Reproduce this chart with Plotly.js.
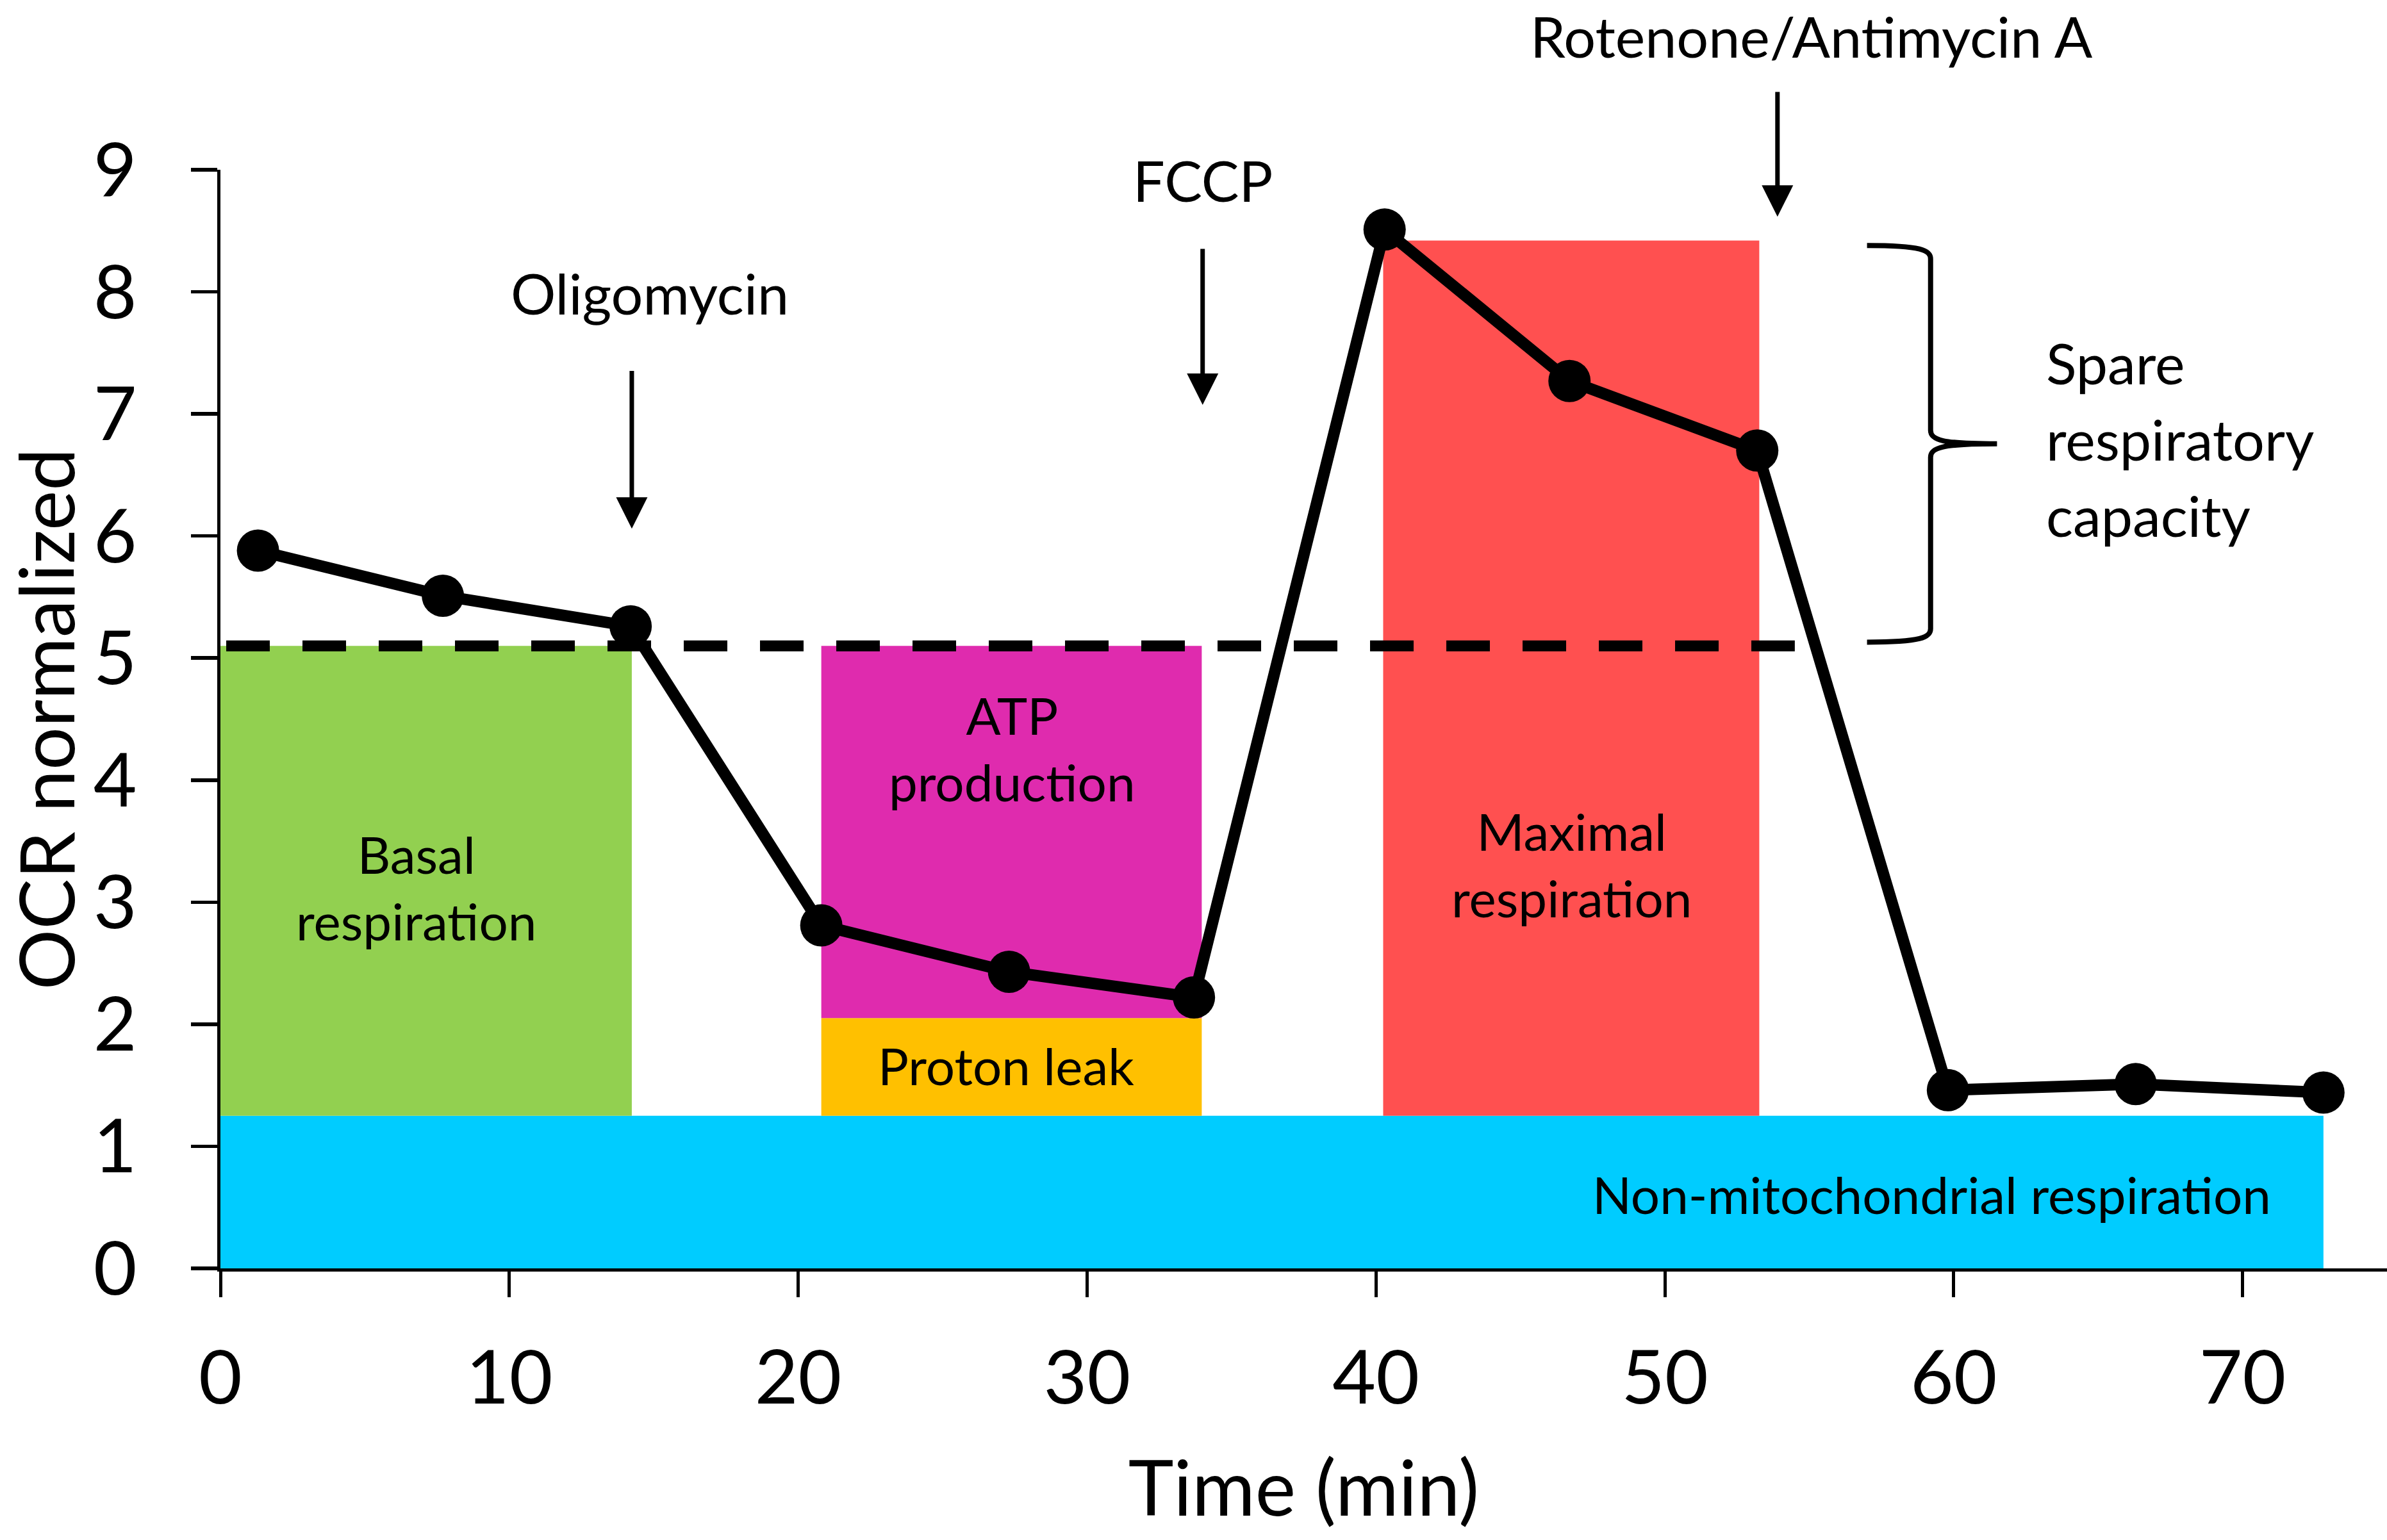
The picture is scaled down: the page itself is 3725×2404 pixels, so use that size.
<!DOCTYPE html>
<html>
<head>
<meta charset="utf-8">
<script src="https://cdn.plot.ly/plotly-3.0.1.min.js"></script>
<style>
  html, body { margin: 0; padding: 0; background: #ffffff; }
  #chart { width: 3725px; height: 2404px; }
</style>
</head>
<body>
<div id="chart"></div>
<script>
// ---- Data ----
const timeMin = [1.3, 7.7, 14.2, 20.8, 27.3, 33.7, 40.3, 46.7, 53.2, 59.8, 66.3, 72.8];
const ocrNormalized = [5.88, 5.51, 5.26, 2.81, 2.43, 2.22, 8.51, 7.27, 6.70, 1.46, 1.51, 1.44];

const basalLevel = 5.1;             // dashed reference line
const basalLineX = [0.2, 54.5];

const regionNames  = ["Non-mitochondrial respiration", "Basal respiration", "Proton leak", "ATP production", "Maximal respiration"];
const regionStart  = [0, 0, 20.8, 20.8, 40.25];
const regionEnd    = [72.8, 14.24, 33.97, 33.97, 53.27];
const regionBottom = [0, 1.25, 1.25, 2.05, 1.25];
const regionTop    = [1.25, 5.1, 2.05, 5.1, 8.42];
const regionColors = ["#00CCFF", "#92D050", "#FFC000", "#DF2BAE", "#FF5050"];

const injectionNames = ["Oligomycin", "FCCP", "Rotenone/Antimycin A"];
const injectionTimes = [14.24, 34.0, 53.9];

const xTickVals = [0, 10, 20, 30, 40, 50, 60, 70];
const yTickVals = [0, 1, 2, 3, 4, 5, 6, 7, 8, 9];

// ---- Styling ----
const FONT = 'Lato, "Open Sans", sans-serif';
const BLACK = '#000000';
const Y_MAX = 9;

const traces = [
  {
    x: basalLineX,
    y: basalLineX.map(() => basalLevel),
    mode: 'lines',
    line: { color: BLACK, width: 17, dash: '68px,51px' },
    hoverinfo: 'skip',
    showlegend: false
  },
  {
    x: timeMin,
    y: ocrNormalized,
    mode: 'lines+markers',
    line: { color: BLACK, width: 18 },
    marker: { color: BLACK, size: 66 },
    cliponaxis: false,
    showlegend: false
  }
];

const shapes = regionNames.map((name, i) => ({
  type: 'rect', xref: 'x', yref: 'y', layer: 'below',
  x0: regionStart[i], x1: regionEnd[i], y0: regionBottom[i], y1: regionTop[i],
  fillcolor: regionColors[i], line: { width: 0 }
}));

// curly brace for spare respiratory capacity
const braceTop = 8.38, braceBottom = 5.13, braceMid = (braceTop + braceBottom) / 2;
const bx0 = 57.0, bx1 = 59.2, bx2 = 61.5;
shapes.push({
  type: 'path', xref: 'x', yref: 'y', layer: 'above',
  path: `M ${bx0},${braceTop} C ${bx1 - 0.3},${braceTop} ${bx1},${braceTop - 0.04} ${bx1},${braceTop - 0.11} ` +
        `L ${bx1},${braceMid + 0.11} C ${bx1},${braceMid + 0.03} ${bx1 + 0.4},${braceMid} ${bx2},${braceMid} ` +
        `C ${bx1 + 0.4},${braceMid} ${bx1},${braceMid - 0.03} ${bx1},${braceMid - 0.11} ` +
        `L ${bx1},${braceBottom + 0.11} C ${bx1},${braceBottom + 0.04} ${bx1 - 0.3},${braceBottom} ${bx0},${braceBottom}`,
  line: { color: BLACK, width: 8 }
});

function label(text, x, y, size, opts) {
  return Object.assign({
    text: text, x: x, y: y, xref: 'x', yref: 'y',
    showarrow: false, xanchor: 'center', yanchor: 'middle',
    font: { family: FONT, size: size, color: BLACK }
  }, opts || {});
}

const arrowTails = [7.36, 8.36, 9.645];
const arrowTips  = [6.06, 7.074, 8.615];
const injLabelX  = [14.87, 34.0, 55.07];
// label positions in paper units (plot height = 1); the top one is pinned to the page top
const injLabelOpts = [
  { yref: 'paper', y: 7.99 / Y_MAX, yanchor: 'middle' },
  { yref: 'paper', y: 8.917 / Y_MAX, yanchor: 'middle' },
  { yref: 'paper', y: 1.1538, yanchor: 'top' }
];

const annotations = [];
injectionNames.forEach((name, i) => {
  annotations.push(label(name, injLabelX[i], 0, 88, injLabelOpts[i]));
  annotations.push({
    x: injectionTimes[i], y: arrowTips[i], ax: injectionTimes[i], ay: arrowTails[i],
    xref: 'x', yref: 'y', axref: 'x', ayref: 'y', text: '',
    showarrow: true, arrowhead: 2, arrowsize: 1.4, arrowwidth: 7, arrowcolor: BLACK,
    standoff: 0, startstandoff: 0
  });
});

annotations.push(label('Basal<br>respiration', 6.78, 3.124, 80));
annotations.push(label('ATP<br>production', 27.41, 4.26, 80));
annotations.push(label('Proton leak', 27.2, 1.663, 80));
annotations.push(label('Maximal<br>respiration', 46.78, 3.314, 80));
annotations.push(label('Non-mitochondrial respiration', 59.25, 0.609, 80));
annotations.push(label('Spare', 63.15, 7.419, 88, { xanchor: 'left' }));
annotations.push(label('respiratory', 63.15, 6.794, 88, { xanchor: 'left' }));
annotations.push(label('capacity', 63.15, 6.170, 88, { xanchor: 'left' }));

const layout = {
  width: 3725, height: 2404,
  margin: { l: 344, r: 0, t: 265, b: 424, pad: 0 },
  paper_bgcolor: '#ffffff', plot_bgcolor: '#ffffff',
  font: { family: FONT, color: BLACK },
  showlegend: false,
  xaxis: {
    range: [0, 75], tickvals: xTickVals, ticktext: xTickVals.map(String),
    ticks: 'outside', ticklen: 40, tickwidth: 5, tickcolor: BLACK,
    showline: true, linewidth: 5, linecolor: BLACK,
    showgrid: false, zeroline: false,
    tickfont: { family: FONT, size: 117, color: BLACK },
    ticklabelstandoff: 26,
    title: { text: 'Time (min)', font: { family: FONT, size: 120, color: BLACK }, standoff: 68 },
    automargin: false
  },
  yaxis: {
    range: [0, Y_MAX], tickvals: yTickVals, ticktext: yTickVals.map(String),
    ticks: 'outside', ticklen: 41, tickwidth: 5.5, tickcolor: BLACK,
    showline: true, linewidth: 5, linecolor: BLACK,
    showgrid: false, zeroline: false,
    tickfont: { family: FONT, size: 117, color: BLACK },
    ticklabelstandoff: 61,
    title: { text: 'OCR normalized', font: { family: FONT, size: 118, color: BLACK }, standoff: 64 },
    automargin: false
  },
  shapes: shapes,
  annotations: annotations
};

Plotly.newPlot('chart', traces, layout, { displayModeBar: false, staticPlot: true });
</script>
</body>
</html>
